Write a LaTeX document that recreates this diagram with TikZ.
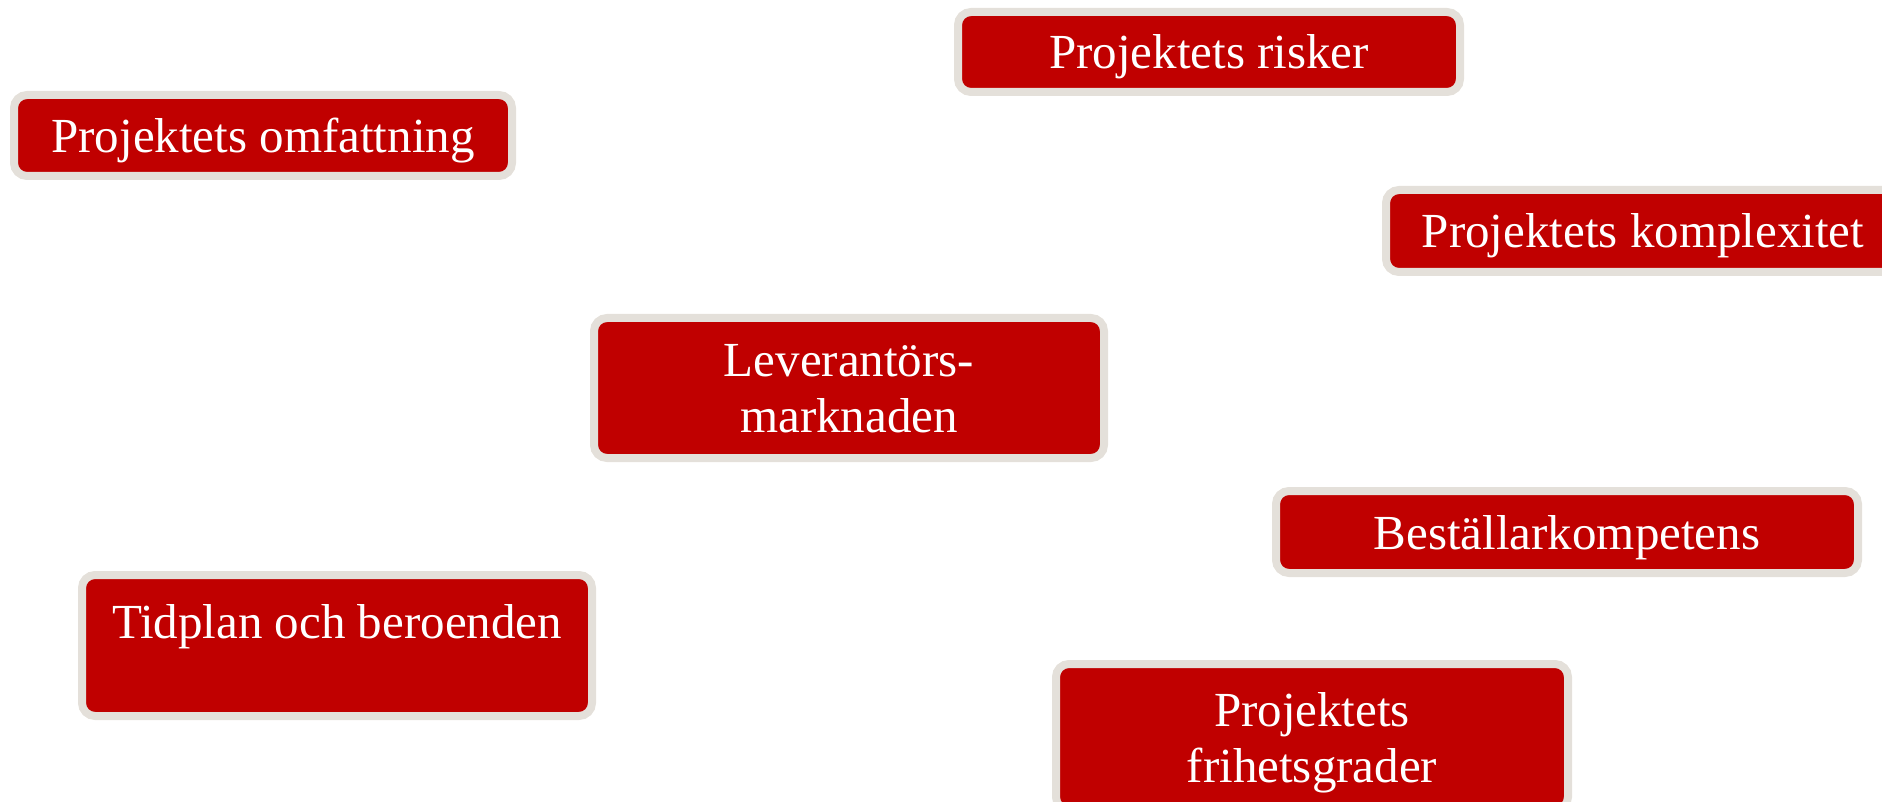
\documentclass[tikz,border=0pt]{standalone}
\usepackage{fontspec}
\setmainfont{Liberation Serif}
\definecolor{boxred}{HTML}{C00000}
\definecolor{boxrim}{HTML}{E4E0DA}
\tikzset{
  factor/.style={draw=boxrim, fill=boxred, line width=8pt, rounded corners=13pt,
    text=white, align=center, inner sep=0pt, text depth=0pt,
    font=\fontsize{49}{56}\selectfont}
}
\begin{document}
\begin{tikzpicture}[x=1pt,y=-1pt]
\useasboundingbox (0,0) rectangle (1882,802);
\clip (0,0) rectangle (1882,802);
\node[factor, minimum width=502pt, minimum height=80pt] (risk) at (1209,52) {Projektets risker};
\node[factor, minimum width=498pt, minimum height=81pt] (omf) at (263,135.5) {Projektets omfattning};
\node[factor, minimum width=514pt, minimum height=82pt] (komp) at (1643,231) {Projektets komplexitet};
\node[factor, minimum width=510pt, minimum height=140pt] (lev) at (849,388) {Leverantörs-\\marknaden};
\node[factor, minimum width=582pt, minimum height=82pt] (best) at (1567,532) {Beställarkompetens};
\node[factor, minimum width=510pt, minimum height=141pt] (tid) at (337,645.5) {Tidplan och beroenden\\[-8pt]\mbox{}};
\node[factor, minimum width=512pt, minimum height=146pt] (fri) at (1312,737) {Projektets\\frihetsgrader};
\end{tikzpicture}
\end{document}
